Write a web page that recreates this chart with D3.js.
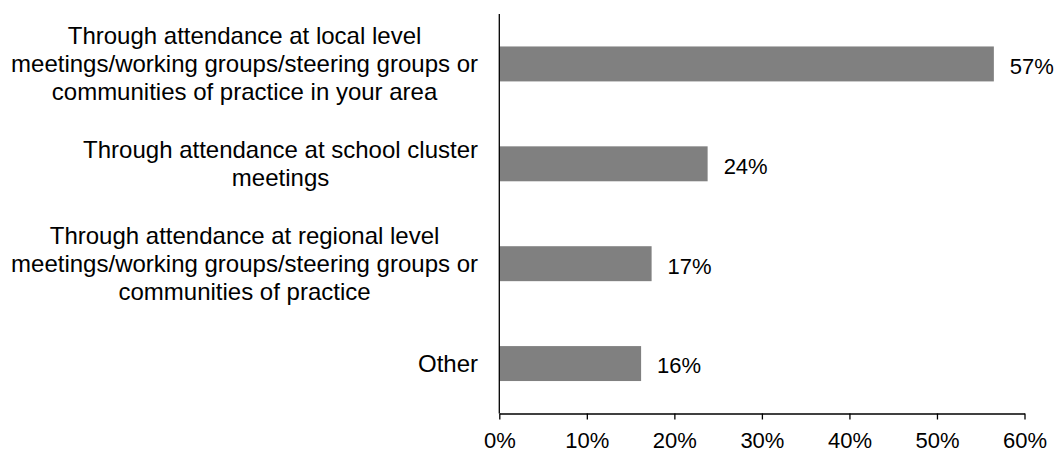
<!DOCTYPE html>
<html><head><meta charset="utf-8">
<script src="https://cdn.jsdelivr.net/npm/d3@7"></script>
<style>body{margin:0;background:#fff}svg{display:block}text{font-family:"Liberation Sans",Arial,sans-serif;fill:#000}</style>
</head><body><svg id="c" width="1057" height="452"></svg>
<script>
const categories = [
  ["Through attendance at local level","meetings/working groups/steering groups or","communities of practice in your area"],
  ["Through attendance at school cluster","meetings"],
  ["Through attendance at regional level","meetings/working groups/steering groups or","communities of practice"],
  ["Other"]
];
const values = [56.5, 23.8, 17.4, 16.2];
const valueLabels = ["57%","24%","17%","16%"];
const ticks = [0,10,20,30,40,50,60];

const svg = d3.select("#c");
const x = d3.scaleLinear().domain([0,60]).range([499.3,1024.5]);
const y = d3.scaleBand().domain(d3.range(categories.length)).range([14,413.5]).paddingInner(0.65).paddingOuter(0.325);
const fsCat = 24, fsVal = 22, fsTick = 22;

svg.selectAll("rect.bar").data(values).join("rect").attr("class","bar")
  .attr("x",x(0)).attr("y",(d,i)=>y(i)).attr("width",d=>x(d)-x(0)).attr("height",y.bandwidth())
  .attr("fill","#808080");

svg.selectAll("text.val").data(values).join("text").attr("class","val")
  .attr("x",d=>x(d)+16).attr("y",(d,i)=>y(i)+y.bandwidth()/2).attr("dy","0.45em")
  .style("font-size",fsVal+"px").text((d,i)=>valueLabels[i]);

const xa = svg.append("g").attr("transform","translate(0,413.5)")
  .call(d3.axisBottom(x).tickValues(ticks).tickSize(6).tickSizeOuter(0).tickFormat(d=>d+"%"));
xa.select(".domain").attr("stroke","#000").attr("stroke-width",1.3);
xa.selectAll(".tick line").attr("stroke","#000").attr("stroke-width",1.3);
xa.selectAll(".tick text").style("font-size",fsTick+"px").attr("font-family","Liberation Sans").attr("fill","#000").attr("y",34.5).attr("dy",0);

svg.append("line").attr("x1",x(0)).attr("x2",x(0)).attr("y1",14).attr("y2",413.5).attr("stroke","#000").attr("stroke-width",1.3);

const lh = 28;
categories.forEach((lines,i)=>{
  const cy = y(i)+y.bandwidth()/2;
  const g = svg.append("g");
  const t = g.append("text").style("font-size",fsCat+"px").attr("text-anchor","middle");
  lines.forEach((l,j)=>{
    t.append("tspan").attr("x",0).attr("y",cy+(j-(lines.length-1)/2)*lh).attr("dy","0.35em").text(l);
  });
  const w = t.node().getBBox().width;
  t.attr("transform",`translate(${478-w/2},0)`);
});
</script></body></html>
